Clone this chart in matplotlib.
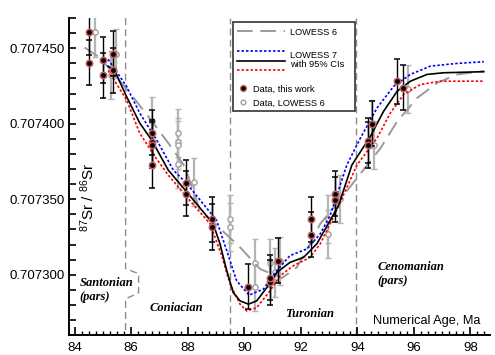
import matplotlib
matplotlib.use('Agg')
from matplotlib import pyplot as plt
from matplotlib.lines import Line2D
from matplotlib.patches import Rectangle
from matplotlib.legend_handler import HandlerBase
from matplotlib.ticker import MultipleLocator, FormatStrFormatter

plt.rcParams['font.family'] = ['Liberation Sans', 'DejaVu Sans']
plt.rcParams['mathtext.fontset'] = 'custom'
plt.rcParams['mathtext.rm'] = 'Liberation Sans'
plt.rcParams['mathtext.default'] = 'regular'

# LOWESS 7 fit (black) and its 95% CIs (blue upper, red lower)
l7_age = [85.18, 85.42, 85.83, 86.30, 86.72, 87.31, 87.96, 88.90, 89.14, 89.38, 89.61, 89.85,
          90.15, 90.44, 90.80, 91.15, 91.62, 92.10, 92.57, 93.04, 93.34, 93.81, 94.46, 94.93,
          95.41, 95.88, 96.47, 97.06, 98.48]
l7_sr = [0.7074382, 0.7074349, 0.7074182, 0.7074005, 0.7073893, 0.7073693, 0.7073549, 0.7073338,
         0.7073205, 0.7073027, 0.7072882, 0.7072827, 0.7072805, 0.7072827, 0.7072915, 0.7073015,
         0.7073082, 0.7073115, 0.7073205, 0.7073360, 0.7073460, 0.7073727, 0.7073915, 0.7074082,
         0.7074215, 0.7074282, 0.7074327, 0.7074338, 0.7074345]

up_age = [85.18, 85.83, 86.30, 86.90, 87.49, 87.96, 89.02, 89.38, 89.73, 90.17, 90.68, 91.15,
          91.62, 92.22, 92.69, 93.04, 93.63, 94.11, 94.70, 95.29, 95.88, 96.59, 97.54, 98.48]
up_sr = [0.7074427, 0.7074249, 0.7074071, 0.7073893, 0.7073693, 0.7073605, 0.7073360, 0.7073160,
         0.7072960, 0.7072865, 0.7072905, 0.7073027, 0.7073127, 0.7073171, 0.7073271, 0.7073393,
         0.7073727, 0.7073905, 0.7074105, 0.7074249, 0.7074327, 0.7074382, 0.7074400, 0.7074411]

lo_age = [85.18, 85.83, 86.30, 86.84, 87.31, 87.96, 88.79, 89.20, 89.50, 89.85, 90.09, 90.44,
          90.91, 91.27, 91.74, 92.33, 92.69, 93.16, 93.99, 94.70, 95.17, 95.64, 96.23, 96.94, 98.48]
lo_sr = [0.7074353, 0.7074160, 0.7073938, 0.7073782, 0.7073660, 0.7073515, 0.7073338, 0.7073127,
         0.7072938, 0.7072805, 0.7072760, 0.7072782, 0.7072893, 0.7072993, 0.7073060, 0.7073115,
         0.7073205, 0.7073382, 0.7073727, 0.7073905, 0.7074071, 0.7074193, 0.7074260, 0.7074282,
         0.7074282]

# LOWESS 6 fit (grey dashed)
l6_age = [84.35, 84.89, 85.95, 86.78, 87.49, 87.90, 88.43, 89.14, 89.85, 90.56, 91.33, 91.86,
          92.33, 92.69, 93.28, 94.82, 95.41, 96.12, 96.83, 97.54, 98.48]
l6_sr = [0.7074505, 0.7074438, 0.7074205, 0.7074005, 0.7073827, 0.7073715, 0.7073427, 0.7073307,
         0.7073182, 0.7073038, 0.7072978, 0.7073049, 0.7073205, 0.7073338, 0.7073471, 0.7073838,
         0.7074015, 0.7074171, 0.7074271, 0.7074327, 0.7074349]

# data, this work
b_age = [84.51, 84.51, 85.00, 85.00, 85.36, 85.36, 86.72, 86.72, 86.72, 86.72, 87.94, 87.94,
         88.87, 88.87, 90.15, 90.91, 90.91, 91.21, 92.37, 92.37, 93.22, 93.22, 94.37, 94.37,
         94.52, 95.41, 95.61]
b_sr = [0.7074605, 0.7074405, 0.7074422, 0.7074322, 0.7074465, 0.7074353, 0.7073942, 0.7073878,
        0.7073860, 0.7073727, 0.7073609, 0.7073538, 0.7073367, 0.7073316, 0.7072922, 0.7072949,
        0.7072980, 0.7073093, 0.7073367, 0.7073265, 0.7073538, 0.7073498, 0.7073887, 0.7073860,
        0.7074000, 0.7074282, 0.7074238]
b_err = 0.000015

# data used for LOWESS 6
g_age = [84.72, 85.28, 85.45, 86.72, 87.64, 87.64, 87.64, 87.64, 88.23, 89.50, 89.50, 90.38,
         90.38, 90.91, 91.09, 91.27, 92.96, 92.96, 93.40, 94.52, 94.61, 95.78]
g_sr = [0.7074605, 0.7074322, 0.7074465, 0.7074020, 0.7073940, 0.7073880, 0.7073860, 0.7073733,
        0.7073615, 0.7073367, 0.7073316, 0.7073078, 0.7072920, 0.7073080, 0.7073015, 0.7073093,
        0.7073370, 0.7073270, 0.7073500, 0.7074000, 0.7073860, 0.7074231]
g_err = 0.000016

# stage boundaries
bounds = [85.8, 89.5, 93.95]
notch_x = [85.8, 85.8, 86.26, 86.26, 85.8, 85.8]
notch_y = [0.70747, 0.707304, 0.7073007, 0.707288, 0.707284, 0.70726]

stages = [('Santonian\n(pars)', 84.18, 0.70729, 'left'),
          ('Coniacian', 87.6, 0.7072782, 'center'),
          ('Turonian', 92.33, 0.7072742, 'center'),
          ('Cenomanian\n(pars)', 94.71, 0.7073005, 'left')]


class HandlerStack(HandlerBase):
    # three lines stacked in one legend entry (upper CI, fit, lower CI)
    def create_artists(self, legend, orig_handle, xdescent, ydescent, width, height, fontsize, trans):
        offs = [0.97, -0.1, -1.07]
        arts = []
        for h, o in zip(orig_handle, offs):
            y = height / 2 - ydescent + o * fontsize
            ln = Line2D([-xdescent, width - xdescent], [y, y])
            ln.update_from(h)
            ln.set_transform(trans)
            arts.append(ln)
        return arts


fig = plt.figure(figsize=(4.95, 3.55), dpi=100)
ax = fig.add_axes([0.139, 0.056, 0.851, 0.893])

for sp in ['top', 'right']:
    ax.spines[sp].set_visible(False)
for sp in ['left', 'bottom']:
    ax.spines[sp].set_linewidth(1.4)

vcol = '#8c8c8c'
ax.plot(notch_x, notch_y, color=vcol, lw=1, dashes=(5, 3), zorder=1)
for b in bounds[1:]:
    ax.axvline(b, color=vcol, lw=1, dashes=(5, 3), zorder=1)

ax.errorbar(g_age, g_sr, yerr=g_err, fmt='o', ms=3.8, mfc='white', mec='#a0a0a0', mew=1,
            ecolor='#b4b4b4', elinewidth=1.6, capsize=2, capthick=1, zorder=2)

l6, = ax.plot(l6_age, l6_sr, color='#9a9a9a', lw=1.4, dashes=(8, 4), zorder=3)
up, = ax.plot(up_age, up_sr, color='blue', lw=1.2, dashes=(1.5, 1.2), zorder=3)
lo, = ax.plot(lo_age, lo_sr, color='red', lw=1.2, dashes=(1.5, 1.2), zorder=3)
l7, = ax.plot(l7_age, l7_sr, color='black', lw=1.2, zorder=3)

ax.errorbar(b_age, b_sr, yerr=b_err, fmt='o', ms=4.6, mfc='black', mec='#c86060', mew=1.1,
            ecolor='black', elinewidth=1, capsize=2, capthick=1, zorder=4)

ax.set_xlim(83.79, 98.7)
ax.set_ylim(0.70726, 0.70747)
ax.xaxis.set_major_locator(MultipleLocator(2))
ax.xaxis.set_minor_locator(MultipleLocator(0.25))
ax.yaxis.set_major_locator(MultipleLocator(0.00005))
ax.yaxis.set_minor_locator(MultipleLocator(0.00001))
ax.yaxis.set_major_formatter(FormatStrFormatter('%.6f'))
ax.tick_params(which='both', direction='in', top=False, right=False)
ax.tick_params(axis='y', which='both', length=5, width=1.2, labelsize=9.5, pad=3)
ax.tick_params(axis='x', which='major', length=6, width=1.2, labelsize=9.5, pad=5)
ax.tick_params(axis='x', which='minor', length=3, width=1)

for txt, x, y, ha in stages:
    ax.text(x, y, txt, ha=ha, va='center', family=['Liberation Serif', 'DejaVu Serif'],
            style='italic', weight='bold', fontsize=9, linespacing=1.25)

ax.text(94.57, 0.7072693, 'Numerical Age, Ma', ha='left', va='center', fontsize=9.2)
ax.text(0.045, 0.434, r'$^{87}$Sr / $^{86}$Sr', transform=ax.transAxes, rotation=90,
        ha='center', va='center', fontsize=11)

# legend frame and two legends inside it
ax.add_patch(Rectangle((0.3895, 0.7075), 0.2895, 0.2795, transform=ax.transAxes,
                       fc='white', ec='#333333', lw=1.2, zorder=6))

leg1 = ax.legend([l6, (up, l7, lo)], ['LOWESS 6', 'LOWESS 7\nwith 95% CIs'],
                 handler_map={tuple: HandlerStack()}, loc='upper left',
                 bbox_to_anchor=(0.399, 0.970), frameon=False, fontsize=6.7,
                 handlelength=5.2, handletextpad=0.55, labelspacing=1.5,
                 borderpad=0, borderaxespad=0)
for t in leg1.get_texts():
    t.set_linespacing(1.0)
leg1.set_zorder(7)
ax.add_artist(leg1)

h_b = Line2D([], [], ls='none', marker='o', ms=4.2, mfc='black', mec='#c86060', mew=1)
h_g = Line2D([], [], ls='none', marker='o', ms=3.4, mfc='white', mec='#a0a0a0', mew=1)
leg2 = ax.legend([h_b, h_g], ['Data, this work', 'Data, LOWESS 6'], loc='upper left',
                 bbox_to_anchor=(0.4014, 0.790), frameon=False, fontsize=6.7,
                 handlelength=1.0, handletextpad=0.65, labelspacing=0.5,
                 borderpad=0, borderaxespad=0)
leg2.set_zorder(7)

fig.savefig('out.png', dpi=100)
